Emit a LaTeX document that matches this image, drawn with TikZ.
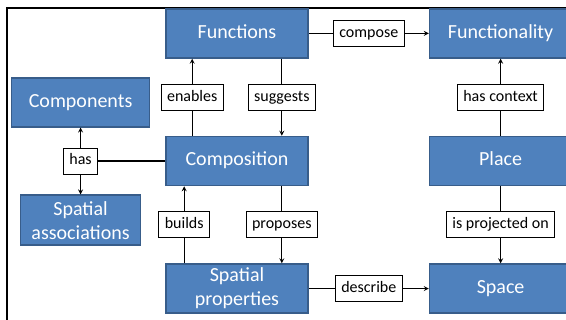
\documentclass[tikz,border=0pt]{standalone}
\usepackage{fontspec}
\setmainfont{Carlito}
\usepackage{xcolor}
\usepackage{tikz}
\usetikzlibrary{
  positioning
}

\definecolor{boxblue}{HTML}{4F81BD}
\definecolor{boxedge}{HTML}{385D8A}

\tikzset{
  concept/.style={draw=boxedge, line width=1.6pt, fill=boxblue, text=white,
    minimum width=142pt, minimum height=49pt, inner sep=2pt, align=center,
    font=\fontsize{20}{24}\selectfont},
  oneline/.style={text height=14pt, text depth=4pt},
  relation/.style={draw=black, line width=0.9pt, fill=white, text=black,
    minimum height=26pt, inner xsep=6pt, inner ysep=2pt,
    text height=11.5pt, text depth=3.5pt,
    font=\fontsize{16}{19}\selectfont}
}

\begin{document}
\begin{tikzpicture}[>=stealth, x=1pt, y=1pt, line width=1.2pt]
  \useasboundingbox (0,0) rectangle (566,-320);
  \clip (0,0) rectangle (566,-320);
  \draw [line width=2pt] (7,-320) |- (566,-8);

  \node [concept, oneline] (composition) at (237,-161) {Composition};
  \node [concept, oneline, above=77pt of composition] (functions) {Functions};
  \node [concept, below=77pt of composition] (spatialprops) {Spatial\\properties};
  \node [concept, oneline, right=120pt of composition] (place) {Place};
  \node [concept, oneline, right=120pt of functions] (functionality) {Functionality};
  \node [concept, oneline, right=120pt of spatialprops] (space) {Space};
  \node [relation, left=67pt of composition] (has) {has};
  \node [concept, oneline, minimum width=138pt, above=20pt of has] (components) {Components};
  \node [concept, minimum width=120pt, minimum height=50pt, below=20pt of has] (spatialassoc) {Spatial\\associations};

  \draw [->] (functions) -- node [relation] {compose} (functionality);
  \draw [->] (spatialprops) -- node [relation] {describe} (space);
  \draw [->] ([xshift=27pt]composition.north west) -- node [relation] {enables} ([xshift=27pt]functions.south west);
  \draw [->] ([xshift=-27pt]functions.south east) -- node [relation] {suggests} ([xshift=-27pt]composition.north east);
  \draw [->] ([xshift=19pt]spatialprops.north west) -- node [relation] {builds} ([xshift=19pt]composition.south west);
  \draw [->] ([xshift=-27pt]composition.south east) -- node [relation] {proposes} ([xshift=-27pt]spatialprops.north east);
  \draw [->] (place) -- node [relation] {has context} (functionality);
  \draw [->] (place) -- node [relation] {is projected on} (space);
  \draw (composition) -- (has);
  \draw [->] (has) -- (components);
  \draw [->] (has) -- (spatialassoc);
\end{tikzpicture}
\end{document}
